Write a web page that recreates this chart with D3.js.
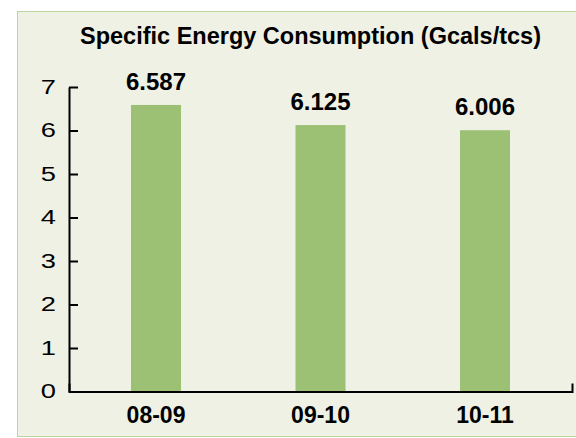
<!DOCTYPE html>
<html>
<head>
<meta charset="utf-8">
<script src="https://cdn.jsdelivr.net/npm/d3@7"></script>
<style>
  html, body { margin: 0; padding: 0; background: #ffffff; }
  svg { display: block; font-family: "Liberation Sans", Arial, sans-serif; }
</style>
</head>
<body>
<svg id="chart" width="576" height="438"></svg>
<script>
// Specific energy consumption per year
const categories = ["08-09", "09-10", "10-11"];
const values = [6.587, 6.125, 6.006];
const valueLabels = ["6.587", "6.125", "6.006"];
const yTicks = [0, 1, 2, 3, 4, 5, 6, 7];
const title = "Specific Energy Consumption (Gcals/tcs)";

const svg = d3.select("#chart");

// chart panel background
svg.append("rect")
  .attr("x", 17.5).attr("y", 11.5)
  .attr("width", 570).attr("height", 425)
  .attr("fill", "#eef1e4")
  .attr("stroke", "#b9d49e")
  .attr("stroke-width", 1);

const x = d3.scaleBand()
  .domain(categories)
  .range([69, 572])
  .paddingInner(0.696)
  .paddingOuter(0.377);

const y = d3.scaleLinear()
  .domain([0, 7])
  .range([391.5, 87]);

// bars
svg.append("g")
  .selectAll("rect")
  .data(values)
  .join("rect")
  .attr("x", (d, i) => x(categories[i]))
  .attr("y", d => y(d))
  .attr("width", x.bandwidth())
  .attr("height", d => y(0) - y(d))
  .attr("fill", "#9cc175");

// value labels
svg.append("g")
  .selectAll("text")
  .data(values)
  .join("text")
  .attr("x", (d, i) => x(categories[i]) + x.bandwidth() / 2)
  .attr("y", d => y(d) - 15)
  .attr("text-anchor", "middle")
  .attr("font-size", 24)
  .attr("font-weight", "bold")
  .attr("fill", "#000")
  .text((d, i) => valueLabels[i]);

// y axis
const stretch = 1.4;
const yAxis = svg.append("g")
  .attr("transform", "translate(69,0)")
  .call(d3.axisLeft(y).tickValues(yTicks).tickFormat(d3.format("d"))
    .tickSizeInner(-9).tickSizeOuter(0).tickPadding(13));
yAxis.select(".domain").attr("stroke", "#000").attr("stroke-width", 2);
yAxis.selectAll(".tick line").attr("stroke", "#000").attr("stroke-width", 2);
yAxis.selectAll(".tick text")
  .attr("font-size", 19.5)
  .attr("font-family", "'Liberation Sans', Arial, sans-serif")
  .attr("fill", "#000")
  .attr("x", -13 / stretch)
  .attr("transform", `scale(${stretch},1)`);

// x axis
const xAxis = svg.append("g")
  .attr("transform", "translate(0,391.5)")
  .call(d3.axisBottom(x).tickSizeInner(0).tickSizeOuter(-8).tickPadding(15));
xAxis.select(".domain").attr("stroke", "#000").attr("stroke-width", 2);
xAxis.selectAll(".tick text")
  .attr("font-size", 23)
  .attr("font-weight", "bold")
  .attr("font-family", "'Liberation Sans', Arial, sans-serif")
  .attr("fill", "#000");

// title
svg.append("text")
  .attr("x", 310.5).attr("y", 44.3)
  .attr("text-anchor", "middle")
  .attr("font-size", 23.5)
  .attr("font-weight", "bold")
  .attr("fill", "#000")
  .text(title);
</script>
</body>
</html>
